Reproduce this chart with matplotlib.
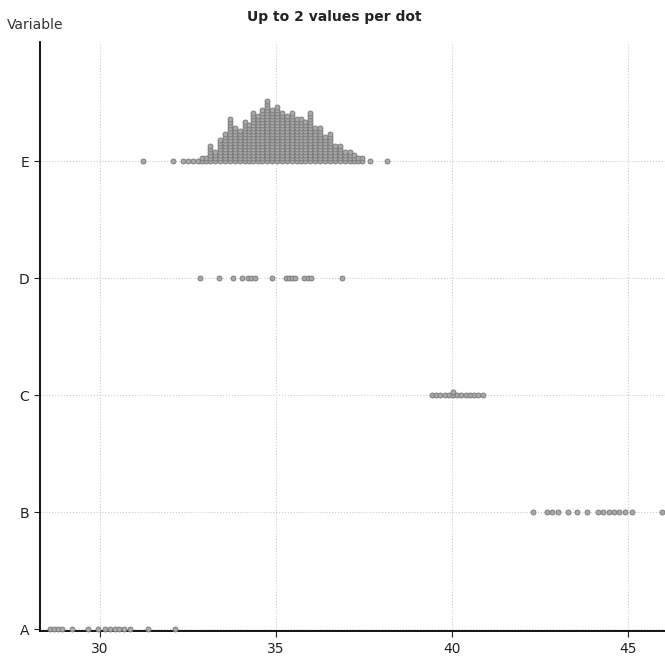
import matplotlib.pyplot as plt
import numpy as np

# dot plot data: x position of each dot column and number of dots stacked there
categories = ["A", "B", "C", "D", "E"]

a_x = [28.58, 28.70, 28.82, 28.94, 29.20, 29.66, 29.94, 30.14, 30.28, 30.42,
       30.56, 30.70, 30.85, 31.36, 32.13]
a_n = [1] * len(a_x)

b_x = [42.30, 42.70, 42.84, 43.00, 43.30, 43.55, 43.83, 44.15, 44.30, 44.45,
       44.60, 44.75, 44.90, 45.10, 45.97]
b_n = [1] * len(b_x)

c_x = [39.43, 39.55, 39.67, 39.79, 39.91, 40.03, 40.15, 40.27, 40.39, 40.51,
       40.63, 40.75, 40.88]
c_n = [1, 1, 1, 1, 1, 2, 1, 1, 1, 1, 1, 1, 1]

d_x = [32.86, 33.38, 33.78, 34.03, 34.20, 34.30, 34.40, 34.90, 35.28, 35.37,
       35.46, 35.54, 35.80, 35.90, 36.00, 36.87]
d_n = [1] * len(d_x)

e_x = [31.22, 32.07, 32.36, 32.50, 32.64, 32.78, 32.90, 33.01, 33.12, 33.27,
       33.41, 33.55, 33.69, 33.84, 33.98, 34.12, 34.23, 34.35, 34.49, 34.60,
       34.74, 34.89, 35.03, 35.17, 35.31, 35.45, 35.60, 35.71, 35.82, 35.97,
       36.11, 36.25, 36.39, 36.53, 36.68, 36.82, 36.96, 37.10, 37.22, 37.33,
       37.44, 37.67, 38.15]
e_n = [1, 1, 1, 1, 1, 1, 2, 2, 6, 4,
       8, 10, 15, 12, 11, 14, 13, 17, 16, 18,
       21, 18, 19, 17, 16, 17, 15, 15, 14, 17,
       12, 12, 9, 10, 6, 6, 4, 4, 3, 2,
       2, 1, 1]

series = [(a_x, a_n), (b_x, b_n), (c_x, c_n), (d_x, d_n), (e_x, e_n)]

fig = plt.figure(figsize=(6.65, 6.63), dpi=100)
ax = fig.add_axes([0.06, 0.048, 0.94, 0.889])

step = 0.0256  # vertical spacing between stacked dots
for level, (xs, ns) in enumerate(series):
    px, py = [], []
    for x, n in zip(xs, ns):
        for k in range(n):
            px.append(x)
            py.append(level + k * step)
    ax.plot(px, py, "o", ms=3.6, mfc="#a8a8a8", mec="#777777", mew=0.6,
            zorder=3, clip_on=False)

ax.set_xlim(28.3, 46.05)
ax.set_ylim(-0.017, 5.02)
ax.set_xticks([30, 35, 40, 45])
ax.set_yticks(range(len(categories)))
ax.set_yticklabels(categories)
ax.tick_params(labelsize=10, length=4, colors="#222222")

ax.grid(True, linestyle=":", color="#cccccc", linewidth=0.8)
ax.set_axisbelow(True)
ax.spines["top"].set_visible(False)
ax.spines["right"].set_visible(False)
ax.spines["left"].set_linewidth(1.3)
ax.spines["bottom"].set_linewidth(1.3)

fig.text(0.503, 0.974, "Up to 2 values per dot", ha="center", va="center",
         fontsize=10, fontweight="bold", color="#222222")
fig.text(0.011, 0.962, "Variable", ha="left", va="center", fontsize=10,
         color="#333333")

fig.savefig("out.png", dpi=100)
